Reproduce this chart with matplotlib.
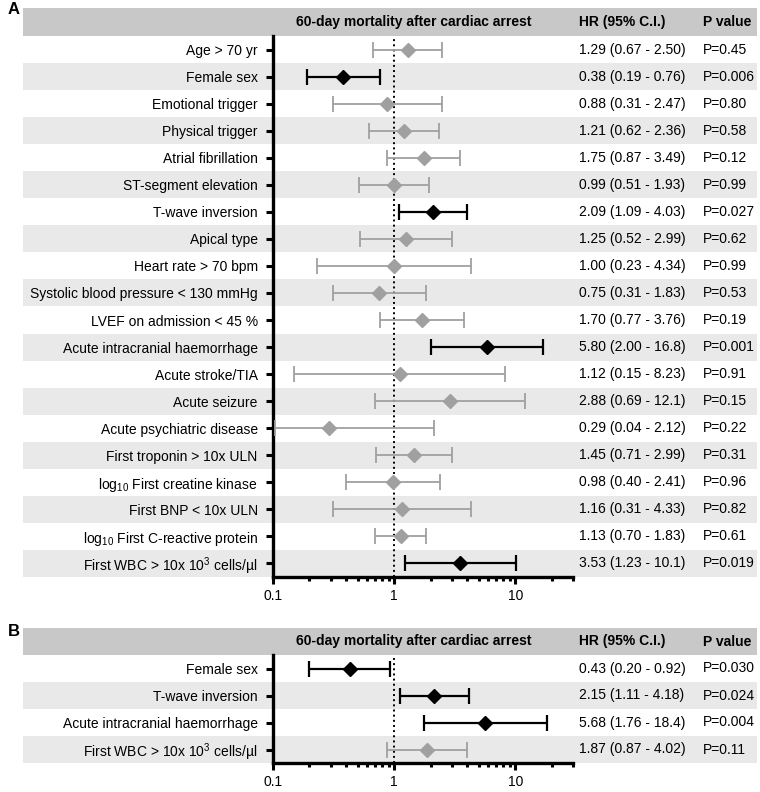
import numpy as np
import matplotlib
matplotlib.use("Agg")
from matplotlib import pyplot as plt
from matplotlib.patches import Rectangle

plt.rcParams['font.family'] = ['Liberation Sans', 'DejaVu Sans']
plt.rcParams['mathtext.default'] = 'regular'

# panel A data
labels_a = ['Age > 70 yr', 'Female sex', 'Emotional trigger', 'Physical trigger',
            'Atrial fibrillation', 'ST-segment elevation', 'T-wave inversion',
            'Apical type', 'Heart rate > 70 bpm', 'Systolic blood pressure < 130 mmHg',
            'LVEF on admission < 45 %', 'Acute intracranial haemorrhage',
            'Acute stroke/TIA', 'Acute seizure', 'Acute psychiatric disease',
            'First troponin > 10x ULN', r'log$_{10}$ First creatine kinase',
            'First BNP < 10x ULN', r'log$_{10}$ First C-reactive protein',
            r'First WBC > 10x 10$^3$ cells/µl']
hr_a = [1.29, 0.38, 0.88, 1.21, 1.75, 0.99, 2.09, 1.25, 1.00, 0.75,
        1.70, 5.80, 1.12, 2.88, 0.29, 1.45, 0.98, 1.16, 1.13, 3.53]
lo_a = [0.67, 0.19, 0.31, 0.62, 0.87, 0.51, 1.09, 0.52, 0.23, 0.31,
        0.77, 2.00, 0.15, 0.69, 0.04, 0.71, 0.40, 0.31, 0.70, 1.23]
hi_a = [2.50, 0.76, 2.47, 2.36, 3.49, 1.93, 4.03, 2.99, 4.34, 1.83,
        3.76, 16.8, 8.23, 12.1, 2.12, 2.99, 2.41, 4.33, 1.83, 10.1]
p_a = ['0.45', '0.006', '0.80', '0.58', '0.12', '0.99', '0.027', '0.62', '0.99', '0.53',
       '0.19', '0.001', '0.91', '0.15', '0.22', '0.31', '0.96', '0.82', '0.61', '0.019']
sig_a = [False, True, False, False, False, False, True, False, False, False,
         False, True, False, False, False, False, False, False, False, True]

# panel B data
labels_b = ['Female sex', 'T-wave inversion', 'Acute intracranial haemorrhage',
            r'First WBC > 10x 10$^3$ cells/µl']
hr_b = [0.43, 2.15, 5.68, 1.87]
lo_b = [0.20, 1.11, 1.76, 0.87]
hi_b = [0.92, 4.18, 18.4, 4.02]
p_b = ['0.030', '0.024', '0.004', '0.11']
sig_b = [True, True, True, False]

W, H = 760, 792
fig = plt.figure(figsize=(7.6, 7.92), dpi=100)

GRAY = '#a0a0a0'
BAND = '#e9e9e9'
HEAD = '#c8c8c8'
X0, X1 = 273, 573   # axis pixel extent
XMIN, XMAX = 0.1, 30


def fmt(v):
    # 3 significant digits like the source table
    return f'{v:.1f}' if v >= 10 else f'{v:.2f}'


def panel(top, bottom, head_top, labels, hr, lo, hi, pv, sig, letter, letter_y):
    n = len(labels)
    ax = fig.add_axes([X0 / W, 1 - bottom / H, (X1 - X0) / W, (bottom - top) / H])
    ax.set_facecolor('none')
    # header band
    fig.add_artist(Rectangle((23 / W, 1 - top / H), (757 - 23) / W, (top - head_top) / H,
                             transform=fig.transFigure, color=HEAD, lw=0, zorder=0))
    hy = 1 - (head_top + top) / 2 / H
    fig.text(414 / W, hy, '60-day mortality after cardiac arrest', ha='center', va='center',
             fontsize=10, fontweight='bold')
    fig.text(579 / W, hy, 'HR (95% C.I.)', ha='left', va='center', fontsize=10, fontweight='bold')
    fig.text(703 / W, hy, 'P value', ha='left', va='center', fontsize=10, fontweight='bold')
    fig.text(8 / W, 1 - letter_y / H, letter, ha='left', va='center', fontsize=12, fontweight='bold')

    ax.set_xscale('log')
    ax.set_xlim(XMIN, XMAX)
    ax.set_ylim(n - 0.5, -0.5)

    xa = (23 - X0) / (X1 - X0)
    xb = (757 - X0) / (X1 - X0)
    for i in range(n):
        if i % 2 == 1:
            ax.axhspan(i - 0.5, i + 0.5, xa, xb, color=BAND, lw=0, zorder=0, clip_on=False)
        c = 'black' if sig[i] else GRAY
        lw = 1.6 if sig[i] else 1.3
        l = max(lo[i], XMIN * 1.03)
        ax.errorbar(hr[i], i, xerr=[[hr[i] - l], [hi[i] - hr[i]]], fmt='D', color=c,
                    ms=7.5, elinewidth=lw, capsize=5.5, capthick=lw, zorder=3)
        ax.text(1.02, i, f'{fmt(hr[i])} ({fmt(lo[i])} - {fmt(hi[i])})',
                transform=ax.get_yaxis_transform(), ha='left', va='center', fontsize=10)
        ax.text((703 - X0) / (X1 - X0), i, 'P=' + pv[i], transform=ax.get_yaxis_transform(),
                ha='left', va='center', fontsize=10)

    ax.axvline(1, color='black', ls=':', lw=1.4, zorder=2)
    ax.set_yticks(range(n))
    ax.set_yticklabels(labels, fontsize=10)
    ax.set_xticks([0.1, 1, 10])
    ax.set_xticklabels(['0.1', '1', '10'], fontsize=10)
    ax.tick_params(axis='both', which='major', direction='out', length=5, width=2.2, pad=6)
    ax.tick_params(axis='x', which='minor', direction='out', length=3, width=2.2)
    ax.tick_params(axis='x', pad=4)
    for s in ['top', 'right']:
        ax.spines[s].set_visible(False)
    for s in ['left', 'bottom']:
        ax.spines[s].set_linewidth(2.4)
    return ax


panel(36, 577, 8, labels_a, hr_a, lo_a, hi_a, p_a, sig_a, 'A', 10)
panel(655, 763, 628, labels_b, hr_b, lo_b, hi_b, p_b, sig_b, 'B', 631)

fig.savefig('out.png', dpi=100)
